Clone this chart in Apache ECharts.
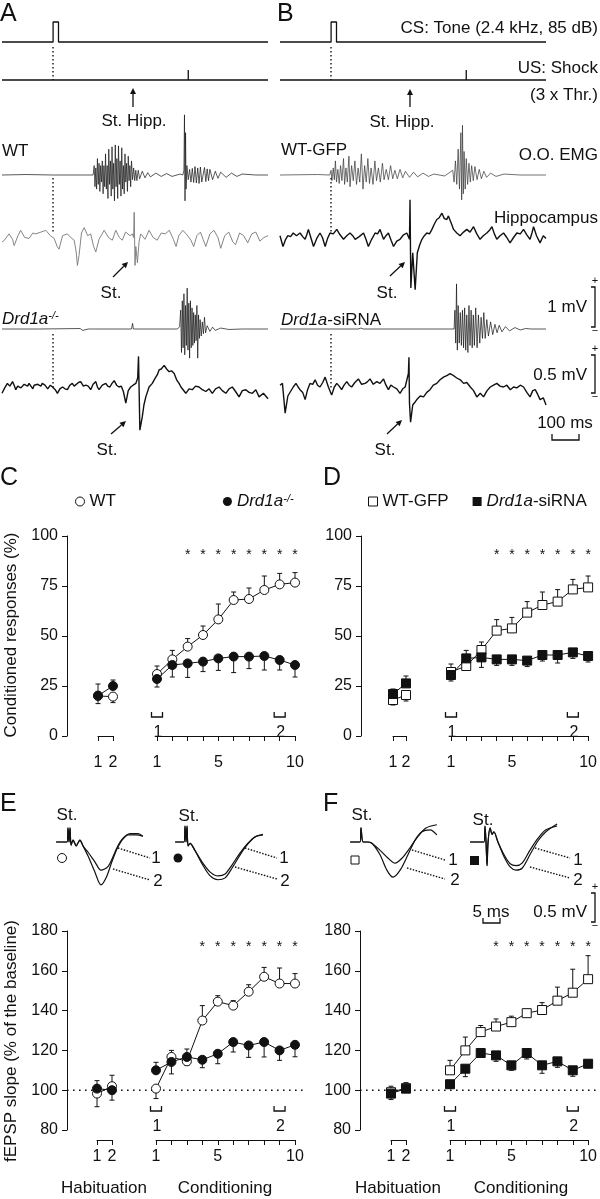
<!DOCTYPE html>
<html>
<head>
<meta charset="utf-8">
<script src="https://cdn.jsdelivr.net/npm/echarts@6/dist/echarts.min.js"></script>
<style>
html, body { margin: 0; padding: 0; background: #fff; }
#app { width: 600px; height: 1199px; }
</style>
</head>
<body>
<div id="app"></div>
<script>
// ---------- 数据 ----------
// sessions
const habSessions = [1, 2];
const condSessions = [1, 2, 3, 4, 5, 6, 7, 8, 9, 10];
const condTickLabels = [1, 5, 10];
const bracketSessions = [1, 9];
const bracketLabels = ['1', '2'];

// C: conditioned responses (%) ; err > 0 drawn up, < 0 drawn down
const crHabWT = [20, 19.7];
const crHabWTErr = [6, -3];
const crHabKO = [20.2, 25];
const crHabKOErr = [-4, 3];
const crWT = [31, 38.3, 44.7, 50.5, 58.3, 68, 68.5, 73, 75.8, 76.7];
const crWTErr = [4, 4.5, 4, 4.5, 7.7, 4, 5.5, 7, 5.5, 5];
const crKO = [28.5, 35.5, 36.3, 37.2, 38.8, 39.7, 39.7, 40, 38, 35.5];
const crKOErr = [-4, -6, -7, -5, -6, -8, -6, -7, -5, -6];
const crStarsC = [3, 4, 5, 6, 7, 8, 9, 10];

// D: conditioned responses (%)
const crHabGFP = [18, 20.5];
const crHabGFPErr = [-2.5, -3];
const crHabSi = [21, 26.3];
const crHabSiErr = [2.5, 3.7];
const crGFP = [32, 35, 43, 52.7, 53.8, 61.7, 65.5, 67.2, 73.3, 74.3];
const crGFPErr = [4, 4, 4, 5.5, 5.5, 5.5, 6.5, 6, 5, 5.7];
const crSi = [30.5, 38.8, 39.3, 38.3, 38.3, 37.7, 40.5, 40.5, 41.8, 40];
const crSiErr = [-3, 4, -5, -3, -3, -3, -3, -4, -3, -3];
const crStarsD = [4, 5, 6, 7, 8, 9, 10];

// E: fEPSP slope (% of baseline)
const fpHabWT = [98.3, 102];
const fpHabWTErr = [-6.6, 5.5];
const fpHabKO = [100.8, 100];
const fpHabKOErr = [4, -5];
const fpWT = [100.8, 116.7, 114.5, 135, 144.5, 142.5, 149.5, 157, 153.6, 153.6];
const fpWTErr = [-5, 3.3, -2, 7.5, 3, 2.5, 3.5, 4.7, 7.8, 5];
const fpKO = [110, 114.2, 116.7, 115.3, 118.3, 124.2, 122.5, 124.2, 120, 122.8];
const fpKOErr = [4, -6, 4, -4, -5, -5, -6, -7.5, -5, -6];
const fpStarsE = [4, 5, 6, 7, 8, 9, 10];

// F: fEPSP slope (% of baseline)
const fpHabGFP = [99, 101];
const fpHabGFPErr = [3, -2];
const fpHabSi = [98.3, 100.8];
const fpHabSiErr = [-3, 3];
const fpGFP = [110, 120, 129.2, 132, 134.2, 138.7, 140.3, 145, 149, 155.8];
const fpGFPErr = [5, 6.7, 3.3, 3.8, 3, 2, 3.7, 6.8, 11.8, 11.8];
const fpSi = [103, 110.8, 118.7, 117.5, 112.5, 118.7, 112.5, 114.5, 110, 113.3];
const fpSiErr = [-2, -4, -2, -3, -2.5, -3, -4, -3, -3, -2];
const fpStarsF = [4, 5, 6, 7, 8, 9, 10];

// A/B: stimulus protocol (ms from CS onset)
const csTrace = [[-189, 0], [0, 0], [0, 1], [20, 1], [20, 0], [795, 0]];
const usTrace = [[-189, 0], [500, 0], [500, 1], [500, 0], [795, 0]];

// A: WT  (ms, mV)
const emgWT = [[-189,0],[-100,0.01],[0,0],[100,0],[148,0],[152,0.2],[155,-0.25],[158,0.15],[161,-0.3],[164,0.35],[167,-0.2],[170,0.25],[173,-0.35],[176,0.2],[179,-0.15],[182,0.3],[185,-0.4],[188,0.2],[191,-0.25],[194,0.45],[197,-0.3],[200,0.2],[203,-0.5],[206,0.55],[209,-0.2],[212,0.3],[215,-0.45],[218,0.6],[221,-0.3],[224,0.25],[227,-0.55],[230,0.64],[233,-0.25],[236,0.35],[239,-0.5],[242,0.62],[245,-0.2],[248,0.3],[251,-0.45],[254,0.58],[257,-0.3],[260,0.2],[263,-0.4],[266,0.45],[269,-0.15],[272,0.25],[275,-0.35],[278,0.4],[281,-0.12],[284,0.2],[287,-0.25],[290,0.3],[294,-0.1],[298,0.15],[302,-0.12],[306,0.1],[310,-0.12],[315,0.1],[320,-0.08],[330,0.08],[340,-0.06],[350,0.05],[360,-0.04],[380,0.04],[400,-0.03],[420,0.03],[440,-0.03],[470,0.02],[480,0],[484,0.1],[486,1.28],[488,-0.55],[490,0.9],[492,-0.3],[495,0.2],[500,-0.1],[505,0.12],[510,-0.15],[515,0.14],[520,-0.16],[525,0.18],[530,-0.17],[535,0.15],[540,-0.18],[545,0.17],[550,-0.15],[560,0.16],[565,-0.14],[570,0.13],[575,-0.12],[580,0.12],[590,-0.1],[600,0.08],[610,-0.07],[620,0.06],[640,-0.05],[660,0.04],[680,-0.03],[700,0.02],[750,0],[795,0]];
const hipWT = [[-189,-0.05],[-180,-0.03],[-163,0.04],[-150,-0.02],[-144,-0.09],[-130,0.02],[-120,0.08],[-105,0],[-89,-0.01],[-75,0.05],[-64,0.04],[-45,0.06],[-27,0.08],[-10,0.02],[4,-0.01],[15,-0.1],[22,-0.13],[35,0.02],[53,0.04],[65,0],[78,-0.03],[85,-0.15],[90,-0.31],[96,-0.2],[105,0.05],[115,0.11],[128,0.02],[139,0.04],[150,-0.1],[158,-0.16],[170,-0.02],[189,0.08],[205,0],[219,-0.03],[232,0.08],[245,0],[256,-0.03],[268,0.06],[275,0.08],[285,0.02],[293,0.04],[298,0],[300,0.28],[303,-0.31],[306,-0.1],[312,-0.28],[318,-0.05],[324,0.04],[340,-0.02],[355,0.08],[370,0],[385,-0.03],[400,0.05],[415,0.04],[430,0.08],[445,-0.02],[455,-0.1],[465,0.02],[480,0.08],[495,0.03],[510,-0.03],[520,-0.1],[532,0.02],[545,0.06],[555,-0.02],[565,-0.1],[580,0.04],[595,0.08],[610,0],[620,-0.12],[635,0.02],[650,0.06],[665,-0.05],[675,-0.08],[690,0.05],[705,0.02],[720,-0.06],[735,0.04],[750,0.06],[765,-0.04],[780,0],[795,0.02]];

// A: Drd1a-/-
const emgKO = [[-189,0],[-50,0],[100,0.01],[110,-0.03],[130,0],[290,0],[294,0.12],[297,0],[460,0],[468,0.05],[472,0.4],[475,-0.5],[478,0.6],[481,-0.4],[484,0.75],[487,-0.55],[490,0.5],[493,-0.35],[496,0.87],[499,-0.45],[502,0.55],[505,-0.62],[508,0.6],[511,-0.4],[514,0.45],[517,-0.35],[520,0.35],[523,-0.3],[526,0.3],[529,-0.25],[532,0.5],[535,-0.62],[538,0.3],[541,-0.2],[544,0.2],[548,-0.15],[552,0.15],[556,-0.1],[560,0.25],[564,-0.08],[570,0.07],[580,-0.05],[590,0.04],[600,-0.03],[620,0.02],[650,-0.01],[700,0],[795,0]];
const hipKO = [[-189,-0.07],[-179,-0.01],[-169,0.04],[-160,0.01],[-150,0.06],[-144,0.02],[-138,-0.03],[-131,0.01],[-125,0.02],[-119,-0.01],[-114,0],[-107,0.03],[-100,0.05],[-94,0.01],[-89,0.04],[-82,0.01],[-75,-0.02],[-70,0.02],[-64,0],[-57,0.03],[-50,0.05],[-45,0.01],[-40,0.04],[-30,0.02],[-20,-0.02],[-10,0.02],[-2,0],[8,-0.03],[16,-0.07],[25,-0.02],[35,0],[44,-0.02],[53,-0.03],[62,0.02],[71,0.04],[78,0.01],[85,0.01],[94,0.05],[102,0.06],[112,0.01],[121,0.02],[130,0.01],[139,-0.03],[148,0.03],[158,0.06],[164,0],[170,-0.03],[182,0.02],[195,0.04],[202,0.01],[210,0],[218,0.04],[226,0.07],[235,0.02],[244,0],[252,0.01],[260,-0.05],[269,-0.18],[278,-0.04],[287,0],[296,0.02],[306,0.04],[313,0.1],[316,0.34],[321,-0.48],[330,-0.33],[336,-0.2],[343,-0.11],[355,0],[367,0.04],[374,0.08],[380,0.1],[386,0.14],[392,0.19],[400,0.2],[411,0.24],[420,0.2],[429,0.17],[438,0.18],[448,0.15],[457,0.08],[466,0.04],[473,0],[480,-0.02],[491,-0.07],[503,-0.02],[515,-0.03],[527,0.01],[540,0],[552,-0.03],[565,-0.05],[577,-0.02],[589,-0.07],[601,-0.02],[614,0],[626,-0.04],[639,-0.07],[651,-0.02],[663,0],[675,-0.05],[688,-0.11],[700,-0.04],[713,-0.03],[725,-0.06],[737,-0.07],[750,-0.03],[762,-0.11],[778,-0.07],[795,-0.13]];

// B: WT-GFP
const emgGFP = [[-189,0],[-50,0.01],[-5,0],[0,0.1],[3,-0.12],[8,0.15],[12,-0.1],[16,0.3],[20,-0.15],[25,0.12],[30,-0.18],[35,0.2],[40,-0.12],[46,0.35],[50,-0.2],[55,0.15],[60,-0.15],[66,0.4],[70,-0.25],[76,0.2],[82,-0.12],[88,0.3],[94,-0.2],[100,0.15],[106,-0.15],[112,0.45],[118,-0.3],[124,0.2],[130,-0.15],[136,0.35],[142,-0.18],[148,0.15],[155,-0.2],[162,0.3],[168,-0.12],[175,0.15],[182,-0.15],[190,0.25],[196,-0.1],[204,0.12],[212,-0.1],[220,0.2],[228,-0.08],[236,0.1],[245,-0.08],[255,0.12],[265,-0.06],[275,0.08],[290,-0.05],[305,0.06],[320,-0.04],[340,0.04],[360,-0.03],[380,0.02],[420,-0.02],[450,0.1],[455,-0.15],[460,0.3],[465,-0.2],[470,0.55],[475,-0.3],[480,0.9],[483,-0.53],[486,1.06],[489,-0.4],[492,0.5],[496,-0.3],[500,0.35],[505,-0.2],[510,0.25],[515,-0.15],[520,0.2],[526,-0.12],[532,0.18],[540,-0.1],[548,0.12],[556,-0.08],[565,0.08],[575,-0.05],[590,0.04],[610,-0.03],[640,0.02],[700,0],[795,0]];
const hipGFP = [[-189,0.02],[-178,-0.1],[-168,-0.02],[-160,0.02],[-150,0.01],[-140,0.05],[-128,0.02],[-115,0.05],[-105,0.01],[-96,-0.02],[-90,0.03],[-84,0.09],[-75,0],[-65,-0.1],[-53,-0.01],[-41,0.05],[-32,0],[-22,-0.1],[-13,-0.01],[-4,0.05],[8,0.04],[21,0.09],[33,0.03],[46,-0.02],[58,0.02],[70,0.05],[80,0.02],[89,-0.02],[104,0.01],[120,0.05],[129,-0.02],[138,-0.1],[150,-0.02],[163,0.05],[172,0.04],[181,0.09],[188,0.03],[194,-0.02],[203,0.02],[212,0.05],[222,-0.03],[231,-0.1],[243,-0.04],[255,-0.02],[268,0.03],[280,0.05],[290,-0.02],[292,0.42],[295,-0.56],[302,-0.17],[311,-0.58],[319,-0.17],[328,-0.08],[336,-0.02],[345,0.02],[354,0.05],[364,0.04],[373,0.09],[382,0.15],[391,0.2],[400,0.22],[410,0.27],[419,0.21],[428,0.2],[434,0.24],[440,0.23],[447,0.14],[453,0.09],[465,0.05],[477,0.02],[490,0.06],[502,0.09],[514,0.06],[527,0.12],[539,0.04],[551,-0.02],[563,0.02],[576,0.05],[586,0.08],[595,0.12],[604,0.04],[613,-0.02],[625,0.02],[638,0.05],[650,0],[662,-0.06],[675,0],[687,0.05],[700,0.04],[712,0.09],[724,0.03],[736,-0.02],[743,0.05],[749,0.12],[760,0.02],[773,-0.06],[785,0.02],[795,-0.01]];

// B: Drd1a-siRNA
const emgSi = [[-189,0],[100,0],[110,0.02],[120,0],[440,0],[455,0],[458,0.4],[461,-0.3],[464,0.96],[467,-0.45],[470,0.5],[474,-0.3],[478,0.35],[482,-0.35],[486,0.4],[490,-0.4],[494,0.45],[498,-0.45],[502,0.3],[506,-0.5],[510,0.5],[514,-0.35],[518,0.4],[522,-0.4],[526,0.3],[530,-0.35],[535,0.45],[540,-0.4],[545,0.3],[550,-0.3],[555,0.25],[560,-0.2],[565,0.35],[570,-0.2],[576,0.2],[582,-0.15],[590,0.15],[598,-0.12],[606,0.1],[614,-0.08],[622,0.08],[632,-0.06],[645,0.05],[660,-0.04],[680,0.03],[700,-0.02],[720,0.01],[740,0],[795,0]];
const hipSi = [[-189,0.02],[-180,0.04],[-170,-0.29],[-160,-0.1],[-150,-0.05],[-140,0],[-130,0.04],[-122,0],[-115,-0.03],[-105,-0.06],[-96,-0.14],[-87,-0.03],[-78,0.04],[-68,0.03],[-59,0.08],[-50,0.02],[-41,0],[-31,0.05],[-22,0.11],[-10,0],[2,-0.09],[12,0],[21,0.04],[30,0.01],[39,-0.03],[48,0.02],[58,0.06],[67,0.02],[76,0],[88,0.05],[101,0.09],[113,0.03],[126,0.04],[135,0.06],[144,0.09],[156,0.03],[169,0.06],[181,0.04],[194,0.09],[203,0.02],[212,-0.03],[221,0.02],[231,0],[243,-0.02],[255,-0.07],[265,-0.02],[274,0],[286,0.15],[288,0.33],[290,-0.18],[294,-0.39],[302,-0.2],[310,-0.17],[317,-0.14],[330,-0.1],[342,-0.11],[354,-0.06],[366,-0.03],[378,0.02],[391,0.04],[403,0.08],[416,0.11],[430,0.13],[440,0.15],[447,0.17],[456,0.12],[465,0.1],[478,0.08],[490,0.04],[502,0.05],[515,0],[527,-0.04],[539,-0.11],[552,-0.07],[564,-0.11],[577,-0.04],[589,0],[601,0.02],[613,0.04],[625,0.01],[638,0],[650,0.02],[663,-0.03],[675,0],[687,-0.01],[700,0.02],[712,0],[724,-0.06],[736,-0.11],[746,-0.04],[755,-0.03],[764,-0.08],[773,-0.14],[785,-0.12],[795,-0.2]];

// E/F: fEPSP waveforms (ms from stimulus, mV); 1 = first session, 2 = ninth session
const wfWT1 = [[-3.5,0],[-0.3,0],[0,0.22],[0.3,0],[0.6,0.22],[0.9,-0.05],[1.5,0.03],[2.4,-0.06],[2.9,-0.02],[3.5,0.03],[4.4,-0.06],[5.9,-0.16],[7.9,-0.31],[9.7,-0.44],[11.8,-0.38],[13.8,-0.16],[15.3,0],[17.6,0.11],[20,0.11],[22,0.09]];
const wfWT2 = [[-3.5,0],[-0.3,0],[0,0.22],[0.3,0],[0.6,0.22],[0.9,-0.05],[1.5,0.03],[2.4,-0.06],[2.9,-0.02],[3.5,0.03],[4.4,-0.06],[5.9,-0.22],[7.9,-0.47],[9.7,-0.67],[11.2,-0.56],[12.9,-0.31],[14.4,-0.11],[15.9,0.03],[18.2,0.13],[20.6,0.13],[22,0.09]];
const wfKO1 = [[-2.9,0],[-0.3,0],[0,0.25],[0.3,0],[0.6,0.25],[0.9,-0.06],[1.5,-0.02],[2.9,-0.13],[5,-0.31],[7.4,-0.47],[9.7,-0.53],[11.8,-0.5],[13.8,-0.36],[16.2,-0.17],[18.5,-0.02],[20.6,0.08],[22.9,0.11]];
const wfKO2 = [[-2.9,0],[-0.3,0],[0,0.25],[0.3,0],[0.6,0.25],[0.9,-0.06],[1.5,-0.02],[2.9,-0.13],[5,-0.34],[7.4,-0.53],[9.7,-0.59],[11.8,-0.56],[13.8,-0.41],[16.2,-0.2],[18.5,-0.03],[20.6,0.08],[22.9,0.12]];
const wfGFP1 = [[-3.2,0],[-0.3,0],[0,0.22],[0.6,0],[1.8,0],[3.2,-0.02],[5.6,-0.13],[7.9,-0.25],[10,-0.33],[12.1,-0.25],[14.4,-0.09],[16.8,0.09],[19.1,0.22],[22.3,0.27]];
const wfGFP2 = [[-3.2,0],[-0.3,0],[0,0.22],[0.6,0],[1.8,0],[3.2,-0.02],[5.6,-0.2],[7.6,-0.44],[9.4,-0.55],[11.5,-0.44],[13.8,-0.2],[15.9,0.03],[17.9,0.16],[20.3,0.19],[22.3,0.11]];
const wfSi1 = [[-4.4,0],[-0.3,0],[0,0.25],[0.3,0],[0.6,-0.37],[0.9,0],[1.5,0.22],[2.1,0.12],[2.6,0.16],[3.8,0],[5.6,-0.2],[7.4,-0.34],[9.1,-0.37],[10.9,-0.33],[13.2,-0.13],[15.6,0.06],[17.9,0.19],[21.2,0.25]];
const wfSi2 = [[-4.4,0],[-0.3,0],[0,0.25],[0.3,0],[0.6,-0.37],[0.9,0],[1.5,0.22],[2.1,0.12],[2.6,0.16],[3.8,0],[5.6,-0.23],[7.4,-0.39],[9.1,-0.44],[10.9,-0.41],[13.2,-0.2],[15.6,0.02],[17.9,0.16],[21.2,0.28]];

// ---------- 样式 ----------
const ink = '#111';
const font = '"Liberation Sans", Arial, Helvetica, sans-serif';

const grid = [], xAxis = [], yAxis = [], series = [];

// 添加一个坐标系，返回索引
function addGrid(g, xa, ya) {
    grid.push(g);
    const i = grid.length - 1;
    xAxis.push(Object.assign({ gridIndex: i }, xa));
    yAxis.push(Object.assign({ gridIndex: i }, ya));
    return i;
}

function visibleAxis(extra, labelExtra) {
    return Object.assign({
        type: 'value',
        axisLine: { show: true, lineStyle: { color: ink, width: 1 } },
        axisTick: { show: true, length: 5, lineStyle: { color: ink, width: 1 } },
        axisLabel: Object.assign({ color: ink, fontSize: 16, fontFamily: font, margin: 9 }, labelExtra || {}),
        splitLine: { show: false }
    }, extra);
}

// 记录曲线（隐藏坐标轴）
function traceGrid(left, right, top, height, xr, yr) {
    return addGrid({ left, right, top, height },
        { type: 'value', min: xr[0], max: xr[1], show: false },
        { type: 'value', min: yr[0], max: yr[1], show: false });
}

function trace(gi, data, color, width, smooth) {
    series.push({
        type: 'line', xAxisIndex: gi, yAxisIndex: gi, data,
        symbol: 'none', smooth: smooth || false, clip: false, silent: true,
        lineStyle: { color, width }, z: 2
    });
}

// 误差线
function errorBar(params, api) {
    const x = api.value(0), y = api.value(1), e = api.value(2);
    const p0 = api.coord([x, y]);
    const p1 = api.coord([x, y + e]);
    return {
        type: 'group', children: [
            { type: 'line', shape: { x1: p0[0], y1: p0[1], x2: p1[0], y2: p1[1] }, style: { stroke: ink, lineWidth: 1 } },
            { type: 'line', shape: { x1: p1[0] - 2.5, y1: p1[1], x2: p1[0] + 2.5, y2: p1[1] }, style: { stroke: ink, lineWidth: 1 } }
        ]
    };
}

function group(gi, name, xs, ys, errs, symbol, filled) {
    series.push({
        type: 'custom', xAxisIndex: gi, yAxisIndex: gi, z: 2, silent: true,
        data: xs.map((x, i) => [x, ys[i], errs[i]]), renderItem: errorBar
    });
    series.push({
        type: 'line', name, xAxisIndex: gi, yAxisIndex: gi, z: filled ? 4 : 3,
        data: xs.map((x, i) => [x, ys[i]]),
        symbol, symbolSize: 9, showAllSymbol: true, clip: false, silent: true,
        itemStyle: { color: filled ? ink : '#fff', borderColor: ink, borderWidth: 1 },
        lineStyle: { color: ink, width: 1 }
    });
}

// 数据面板：背景坐标系(y轴) + 习惯化 + 条件化
function dataPanel(p) {
    const yr = { type: 'value', min: p.yMin, max: p.yMax, show: false };
    const bg = addGrid({ left: p.bg[0], right: p.bg[1], top: p.top, bottom: p.bottom },
        { type: 'value', min: 0, max: 1, show: false },
        visibleAxis({ min: p.yMin, max: p.yMax, interval: p.yStep }));
    if (p.refLine !== undefined) {
        series.push({
            type: 'line', xAxisIndex: bg, yAxisIndex: bg, data: [[0, p.refLine], [1, p.refLine]],
            symbol: 'none', silent: true, z: 1,
            lineStyle: { color: ink, width: 1.6, type: [1.6, 4.4] }
        });
    }
    const hab = addGrid({ left: p.hab[0], right: p.hab[1], top: p.top, bottom: p.bottom },
        visibleAxis({ min: 1, max: 2, interval: 1, offset: 10 }), yr);
    const cond = addGrid({ left: p.cond[0], right: p.cond[1], top: p.top, bottom: p.bottom },
        visibleAxis({ min: 1, max: 10, interval: 1, offset: 10 },
            { formatter: v => condTickLabels.indexOf(v) >= 0 ? String(v) : '' }), yr);

    group(hab, p.openName, habSessions, p.habOpen, p.habOpenErr, p.sym, false);
    group(hab, p.fillName, habSessions, p.habFill, p.habFillErr, p.sym, true);
    group(cond, p.openName, condSessions, p.open, p.openErr, p.sym, false);
    group(cond, p.fillName, condSessions, p.fill, p.fillErr, p.sym, true);

    // 显著性星号
    series.push({
        type: 'custom', xAxisIndex: cond, yAxisIndex: cond, silent: true, z: 5,
        data: p.stars.map(s => [s, p.starY]),
        renderItem: (params, api) => {
            const c = api.coord([api.value(0), api.value(1)]);
            return { type: 'text', x: c[0], y: c[1], style: { text: '*', fill: ink, fontSize: 14, fontFamily: font, align: 'center', verticalAlign: 'middle' } };
        }
    });
    // 第1、第9次条件化标记
    series.push({
        type: 'custom', xAxisIndex: cond, yAxisIndex: cond, silent: true, z: 5,
        data: bracketSessions.map(s => [s, p.yMin]),
        renderItem: (params, api) => {
            const c = api.coord([api.value(0), api.value(1)]);
            return {
                type: 'group', children: [
                    { type: 'polyline', shape: { points: [[c[0] - 5.5, c[1] - 24], [c[0] - 5.5, c[1] - 19], [c[0] + 5.5, c[1] - 19], [c[0] + 5.5, c[1] - 24]] }, style: { stroke: ink, fill: null, lineWidth: 1.3 } },
                    { type: 'text', x: c[0] + 1, y: c[1] - 3, style: { text: bracketLabels[params.dataIndex], fill: ink, fontSize: 16, fontFamily: font, align: 'center', verticalAlign: 'middle' } }
                ]
            };
        }
    });
}

// ---------- A / B 记录 ----------
const tRange = [-189, 795];
const cols = [[2, 332], [280, 54]];
const rows = [
    // [emg, hippocampus] per column
    [emgWT, hipWT, emgKO, hipKO, '#777'],
    [emgGFP, hipGFP, emgSi, hipSi, ink]
];
cols.forEach((c, k) => {
    trace(traceGrid(c[0], c[1], 22, 20, tRange, [0, 1]), csTrace, ink, 1.3);
    trace(traceGrid(c[0], c[1], 70, 10, tRange, [0, 1]), usTrace, ink, 1.3);
    const r = rows[k];
    trace(traceGrid(c[0], c[1], 104.5, 141, tRange, [-1.5, 1.5]), r[0], k === 0 ? ink : '#333', 0.7);
    trace(traceGrid(c[0], c[1], 192.5, 90, tRange, [-0.5, 0.5]), r[1], r[4], k === 0 ? 0.9 : 1.4);
    trace(traceGrid(c[0], c[1], 258.5, 141, tRange, [-1.5, 1.5]), r[2], ink, 0.7);
    trace(traceGrid(c[0], c[1], 342, 90, tRange, [-0.5, 0.5]), r[3], ink, 1.4);
});

// ---------- E / F 场电位波形 ----------
const wfRange = [-5, 24.4];
[[51, 449, wfWT1, wfWT2], [168, 332, wfKO1, wfKO2], [344, 156, wfGFP1, wfGFP2], [468, 32, wfSi1, wfSi2]].forEach(w => {
    const gi = traceGrid(w[0], w[1], 810, 96, wfRange, [-1, 0.5]);
    trace(gi, w[2], ink, 1.2, 0.3);
    trace(gi, w[3], ink, 1.2, 0.3);
});

// ---------- C / D / E / F ----------
dataPanel({ bg: [67, 300], hab: [98, 487], cond: [157, 305], top: 536, bottom: 463, yMin: 0, yMax: 100, yStep: 25,
    sym: 'circle', openName: 'WT', fillName: 'Drd1a-/-',
    habOpen: crHabWT, habOpenErr: crHabWTErr, habFill: crHabKO, habFillErr: crHabKOErr,
    open: crWT, openErr: crWTErr, fill: crKO, fillErr: crKOErr, stars: crStarsC, starY: 90.5 });
dataPanel({ bg: [361, 5], hab: [393, 194], cond: [451, 11], top: 536, bottom: 463, yMin: 0, yMax: 100, yStep: 25,
    sym: 'rect', openName: 'WT-GFP', fillName: 'Drd1a-siRNA',
    habOpen: crHabGFP, habOpenErr: crHabGFPErr, habFill: crHabSi, habFillErr: crHabSiErr,
    open: crGFP, openErr: crGFPErr, fill: crSi, fillErr: crSiErr, stars: crStarsD, starY: 90.5 });
dataPanel({ bg: [67, 297], hab: [97, 488], cond: [156, 305], top: 931, bottom: 69, yMin: 80, yMax: 180, yStep: 20, refLine: 100,
    sym: 'circle', openName: 'WT E', fillName: 'KO E',
    habOpen: fpHabWT, habOpenErr: fpHabWTErr, habFill: fpHabKO, habFillErr: fpHabKOErr,
    open: fpWT, openErr: fpWTErr, fill: fpKO, fillErr: fpKOErr, stars: fpStarsE, starY: 172 });
dataPanel({ bg: [360, 2], hab: [391, 194], cond: [450, 11], top: 931, bottom: 69, yMin: 80, yMax: 180, yStep: 20, refLine: 100,
    sym: 'rect', openName: 'GFP F', fillName: 'Si F',
    habOpen: fpHabGFP, habOpenErr: fpHabGFPErr, habFill: fpHabSi, habFillErr: fpHabSiErr,
    open: fpGFP, openErr: fpGFPErr, fill: fpSi, fillErr: fpSiErr, stars: fpStarsF, starY: 172 });

// ---------- 文字与注释 ----------
const rich = {
    i: { fontStyle: 'italic', fontSize: 17, fontFamily: font, color: ink, fill: ink },
    s: { fontStyle: 'italic', fontSize: 11, fontFamily: font, color: ink, fill: ink, verticalAlign: 'top', lineHeight: 12 }
};
function txt(text, x, y, o) {
    return Object.assign({ type: 'text', x, y, silent: true, z: 10 }, o && o.el || {}, {
        style: Object.assign({ text, fill: ink, fontSize: 17, fontFamily: font, align: 'left', verticalAlign: 'middle', rich }, o && o.style || {})
    });
}
function arrow(x1, y1, x2, y2) {
    const a = Math.atan2(y2 - y1, x2 - x1), L = 6, W = 3;
    const bx = x2 - L * Math.cos(a), by = y2 - L * Math.sin(a);
    return {
        type: 'group', silent: true, z: 10, children: [
            { type: 'line', shape: { x1, y1, x2: bx, y2: by }, style: { stroke: ink, lineWidth: 1.3 } },
            { type: 'polygon', shape: { points: [[x2, y2], [bx - W * Math.sin(a), by + W * Math.cos(a)], [bx + W * Math.sin(a), by - W * Math.cos(a)]] }, style: { fill: ink } }
        ]
    };
}
function poly(points, dash, w) {
    return { type: 'polyline', silent: true, z: 10, shape: { points }, style: { stroke: ink, fill: null, lineWidth: w || 1.3, lineDash: dash || null } };
}
function vbar(x, y1, y2) {
    return [poly([[x - 4, y1], [x, y1], [x, y2], [x - 4, y2]]),
        txt('+', x, y1 - 6, { style: { fontSize: 11, align: 'center' } }),
        txt('\u2212', x, y2 + 4, { style: { fontSize: 11, align: 'center' } })];
}
const dot = [1.5, 2.5];
const letter = { style: { fontSize: 25 } };
const center = { style: { align: 'center' } };
const right = { style: { align: 'right' } };

const graphic = [
    txt('A', 0, 14, letter), txt('B', 277, 14, letter), txt('C', 0, 478, letter),
    txt('D', 323, 478, letter), txt('E', 0, 804, letter), txt('F', 323, 804, letter),

    txt('CS: Tone (2.4 kHz, 85 dB)', 598, 28, right),
    txt('US: Shock', 598, 68, right),
    txt('(3 x Thr.)', 598, 95, right),
    arrow(133, 107, 133, 88), txt('St. Hipp.', 134, 121, center),
    arrow(410, 107, 410, 89), txt('St. Hipp.', 402, 122, center),
    txt('WT', 2, 151), txt('WT-GFP', 281, 150),
    txt('O.O. EMG', 598, 155, right), txt('Hippocampus', 598, 218, right),
    arrow(113, 277, 128, 262), txt('St.', 111, 293, center),
    arrow(390, 276, 405, 262), txt('St.', 387, 293, center),
    txt('{i|Drd1a}{s|-/-}', 2, 319), txt('{i|Drd1a}-siRNA', 281, 320),
    arrow(111, 434, 126, 421), txt('St.', 107, 450, center),
    arrow(387, 434, 402, 420), txt('St.', 385, 450, center),
    txt('1 mV', 587, 307, right), ...vbar(595, 287, 327),
    txt('0.5 mV', 587, 375, right), ...vbar(595, 355, 393),
    txt('100 ms', 565, 423, center), poly([[552, 434], [552, 440], [579, 440], [579, 434]]),
    // CS 起点虚线
    poly([[53, 47], [53, 80]], dot, 1.4), poly([[53, 178], [53, 233]], dot, 1.4), poly([[53, 334], [53, 388]], dot, 1.4),
    poly([[331, 47], [331, 80]], dot, 1.4), poly([[331, 178], [331, 232]], dot, 1.4), poly([[331, 334], [331, 388]], dot, 1.4),

    // E / F 波形注释
    txt('St.', 67, 815, center), txt('St.', 189, 816, center), txt('St.', 362, 815, center), txt('St.', 483, 820, center),
    { type: 'circle', shape: { cx: 62, cy: 858, r: 4.5 }, style: { fill: '#fff', stroke: ink, lineWidth: 1 }, z: 10 },
    { type: 'circle', shape: { cx: 178, cy: 858, r: 4.5 }, style: { fill: ink }, z: 10 },
    { type: 'rect', shape: { x: 351, y: 856, width: 8, height: 8 }, style: { fill: '#fff', stroke: ink, lineWidth: 1 }, z: 10 },
    { type: 'rect', shape: { x: 470, y: 856, width: 9, height: 9 }, style: { fill: ink }, z: 10 },
    poly([[118, 848], [150, 858]], [1.5, 1.5], 1.4), txt('1', 156, 858, center),
    poly([[113, 869], [150, 880]], [1.5, 1.5], 1.4), txt('2', 158, 881, center),
    poly([[245, 848], [277, 858]], [1.5, 1.5], 1.4), txt('1', 284, 858, center),
    poly([[235, 867], [277, 879]], [1.5, 1.5], 1.4), txt('2', 285, 881, center),
    poly([[412, 850], [445, 860]], [1.5, 1.5], 1.4), txt('1', 453, 860, center),
    poly([[407, 868], [445, 879]], [1.5, 1.5], 1.4), txt('2', 455, 880, center),
    poly([[535, 848], [570, 858]], [1.5, 1.5], 1.4), txt('1', 578, 860, center),
    poly([[530, 867], [570, 878]], [1.5, 1.5], 1.4), txt('2', 578, 880, center),
    txt('5 ms', 491, 912, center), poly([[483, 918], [483, 923], [500, 923], [500, 918]]),
    txt('0.5 mV', 587, 912, right), ...vbar(595, 893, 922),

    // 轴标题
    txt('Conditioned responses (%)', 11, 635, { el: { rotation: Math.PI / 2 }, style: { align: 'center' } }),
    txt('fEPSP slope (% of the baseline)', 11, 1041, { el: { rotation: Math.PI / 2 }, style: { align: 'center' } }),
    txt('Habituation', 104, 1188, center), txt('Conditioning', 225, 1188, center),
    txt('Habituation', 398, 1188, center), txt('Conditioning', 521, 1188, center)
];

// ---------- 图例 ----------
function legendFormat(name) {
    if (name === 'Drd1a-/-') return '{i|Drd1a}{s|-/-}';
    if (name === 'Drd1a-siRNA') return '{i|Drd1a}-siRNA';
    return name;
}
const legendText = { fontSize: 17, color: ink, fontFamily: font, rich };
const legend = [
    { left: 75, top: 493, padding: 0, width: 300, itemWidth: 9, itemHeight: 9, itemGap: 107, selectedMode: false, textStyle: legendText, formatter: legendFormat,
      data: [{ name: 'WT', icon: 'circle', itemStyle: { color: '#fff', borderColor: ink, borderWidth: 1 } },
             { name: 'Drd1a-/-', icon: 'circle', itemStyle: { color: ink, borderWidth: 0 } }] },
    { left: 368, top: 493, padding: 0, width: 300, itemWidth: 9, itemHeight: 9, itemGap: 24, selectedMode: false, textStyle: legendText, formatter: legendFormat,
      data: [{ name: 'WT-GFP', icon: 'rect', itemStyle: { color: '#fff', borderColor: ink, borderWidth: 1 } },
             { name: 'Drd1a-siRNA', icon: 'rect', itemStyle: { color: ink, borderWidth: 0 } }] }
];

const chart = echarts.init(document.getElementById('app'));
chart.setOption({
    animation: false,
    backgroundColor: '#fff',
    grid, xAxis, yAxis, series, legend, graphic
});
</script>
</body>
</html>
